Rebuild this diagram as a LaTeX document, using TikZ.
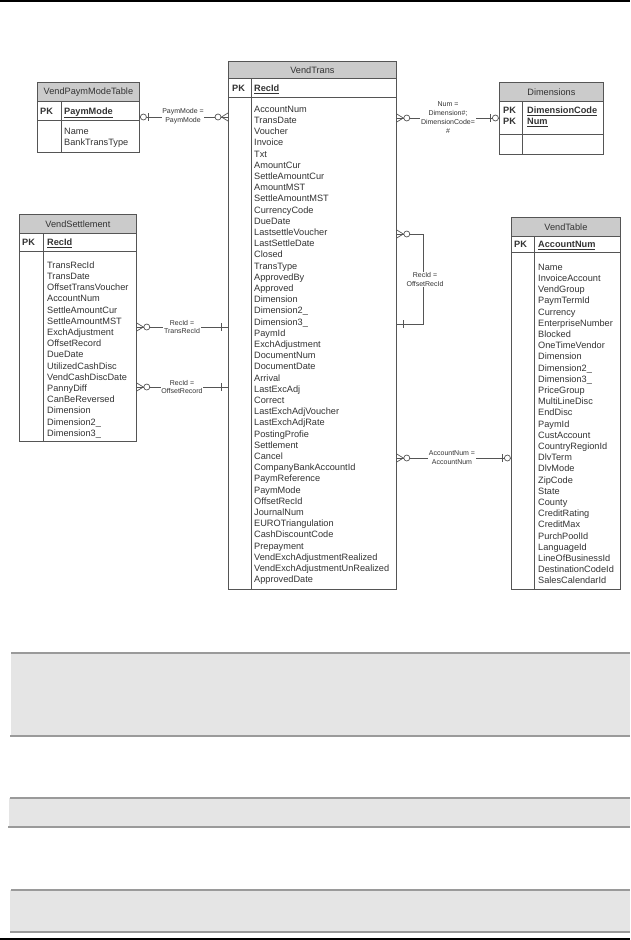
\documentclass[tikz,border=0pt]{standalone}
\usepackage{fontspec}
\setmainfont{Liberation Sans}
\usetikzlibrary{calc}
\definecolor{txt}{HTML}{333333}
\definecolor{bord}{HTML}{555555}
\definecolor{hdrfill}{HTML}{CBCBCB}
\definecolor{bandfill}{HTML}{E5E5E5}
\definecolor{bandline}{HTML}{9A9A9A}
\begin{document}
\begin{tikzpicture}[x=1pt,y=-1pt,
  tbl/.style={draw=bord, line width=0.8pt, inner sep=0pt, anchor=north west},
  hdr/.style={draw=bord, fill=hdrfill, line width=0.8pt, inner sep=0pt, anchor=north west},
  htxt/.style={text=txt, font=\fontsize{9.2}{11.2}\selectfont, inner sep=0pt},
  fld/.style={text=txt, font=\fontsize{9.2}{11.2}\selectfont, inner sep=0pt, anchor=base west},
  pk/.style={text=txt, font=\fontsize{9.2}{11.2}\selectfont\bfseries, inner sep=0pt, anchor=base west},
  bline/.style={draw=bord, line width=0.8pt},
  conn/.style={draw=bord, line width=0.7pt},
  lbl/.style={text=txt, font=\fontsize{7}{8.8}\selectfont, align=center, fill=white, inner sep=0.6pt},
  band/.style={fill=bandfill, draw=none},
  bandedge/.style={draw=bandline, line width=1.2pt},
  pics/manyopt/.style={code={
    \draw[conn] (0,-4) -- (6.5,0) -- (0,4);
    \draw[conn, fill=white] (10,0) circle[radius=3pt];
  }},
  pics/oneopt/.style={code={
    \draw[conn] (9,-4) -- (9,4);
    \draw[conn, fill=white] (3.6,0) circle[radius=3pt];
  }},
  pics/onebar/.style={code={
    \draw[conn] (6.5,-4) -- (6.5,4);
  }}
]
\useasboundingbox (0,0) rectangle (630,940);
\fill[white] (0,0) rectangle (630,940);

% page rules
\draw[line width=2pt, black] (0,1) -- (630,1);
\draw[line width=2pt, black] (0,939) -- (630,939);

% gray bands
\fill[band] (11,653) rectangle (630,736);
\draw[bandedge] (11,653) -- (630,653);
\draw[bandedge] (10,736) -- (630,736);
\fill[band] (9,798) rectangle (630,827);
\draw[bandedge] (10,798) -- (630,798);
\draw[bandedge] (8,827) -- (630,827);
\fill[band] (10,890) rectangle (630,932);
\draw[bandedge] (11,890) -- (630,890);
\draw[bandedge] (10,932) -- (630,932);

% ---------- VendPaymModeTable ----------
\node[tbl, minimum width=102pt, minimum height=70pt] (pm) at (37,82) {};
\node[hdr, minimum width=102pt, minimum height=19pt] (pmH) at (37,82) {};
\node[htxt] (pmT) at (pmH.center) {VendPaymModeTable};
\draw[bline] (37,120) -- (139,120);
\draw[bline] (61,101) -- (61,152);
\node[pk] (pmPK) at (40,114) {PK};
\node[pk] (pmK) at (64,114) {\underline{PaymMode}};
\node[fld] (pmF1) at (64,134.3) {Name};
\node[fld] (pmF2) at (64,145.5) {BankTransType};

% ---------- VendTrans ----------
\node[tbl, minimum width=168pt, minimum height=528pt] (vt) at (228,61) {};
\node[hdr, minimum width=168pt, minimum height=17pt] (vtH) at (228,61) {};
\node[htxt] (vtT) at (vtH.center) {VendTrans};
\draw[bline] (228,97) -- (396,97);
\draw[bline] (251,78) -- (251,589);
\node[pk] (vtPK) at (232,91.3) {PK};
\node[pk] (vtK) at (254,91.3) {\underline{RecId}};
\foreach \f [count=\i from 0] in {AccountNum,TransDate,Voucher,Invoice,Txt,AmountCur,SettleAmountCur,AmountMST,SettleAmountMST,CurrencyCode,DueDate,LastsettleVoucher,LastSettleDate,Closed,TransType,ApprovedBy,Approved,Dimension,Dimension2\_,Dimension3\_,PaymId,ExchAdjustment,DocumentNum,DocumentDate,Arrival,LastExcAdj,Correct,LastExchAdjVoucher,LastExchAdjRate,PostingProfie,Settlement,Cancel,CompanyBankAccountId,PaymReference,PaymMode,OffsetRecId,JournalNum,EUROTriangulation,CashDiscountCode,Prepayment,VendExchAdjustmentRealized,VendExchAdjustmentUnRealized,ApprovedDate}
  \node[fld] (vtF\i) at (254,112.3+11.2*\i) {\f};

% ---------- Dimensions ----------
\node[tbl, minimum width=104pt, minimum height=72pt] (dm) at (499,82) {};
\node[hdr, minimum width=104pt, minimum height=19pt] (dmH) at (499,82) {};
\node[htxt] (dmT) at (dmH.center) {Dimensions};
\draw[bline] (499,134) -- (603,134);
\draw[bline] (522,101) -- (522,154);
\node[pk] (dmPK1) at (503,113.3) {PK};
\node[pk] (dmPK2) at (503,124.5) {PK};
\node[pk] (dmK1) at (527,113.3) {\underline{DimensionCode}};
\node[pk] (dmK2) at (527,124.5) {\underline{Num}};

% ---------- VendSettlement ----------
\node[tbl, minimum width=117pt, minimum height=227pt] (vs) at (19,214) {};
\node[hdr, minimum width=117pt, minimum height=19pt] (vsH) at (19,214) {};
\node[htxt] (vsT) at (vsH.center) {VendSettlement};
\draw[bline] (19,251) -- (136,251);
\draw[bline] (43,233) -- (43,441);
\node[pk] (vsPK) at (22,245.3) {PK};
\node[pk] (vsK) at (47,245.3) {\underline{RecId}};
\foreach \f [count=\i from 0] in {TransRecId,TransDate,OffsetTransVoucher,AccountNum,SettleAmountCur,SettleAmountMST,ExchAdjustment,OffsetRecord,DueDate,UtilizedCashDisc,VendCashDiscDate,PannyDiff,CanBeReversed,Dimension,Dimension2\_,Dimension3\_}
  \node[fld] (vsF\i) at (47,268.3+11.2*\i) {\f};

% ---------- VendTable ----------
\node[tbl, minimum width=109pt, minimum height=372pt] (vtb) at (511,217) {};
\node[hdr, minimum width=109pt, minimum height=19pt] (vtbH) at (511,217) {};
\node[htxt] (vtbT) at (vtbH.center) {VendTable};
\draw[bline] (511,252) -- (620,252);
\draw[bline] (534,236) -- (534,589);
\node[pk] (vtbPK) at (514,247.3) {PK};
\node[pk] (vtbK) at (538,247.3) {\underline{AccountNum}};
\foreach \f [count=\i from 0] in {Name,InvoiceAccount,VendGroup,PaymTermId,Currency,EnterpriseNumber,Blocked,OneTimeVendor,Dimension,Dimension2\_,Dimension3\_,PriceGroup,MultiLineDisc,EndDisc,PaymId,CustAccount,CountryRegionId,DlvTerm,DlvMode,ZipCode,State,County,CreditRating,CreditMax,PurchPoolId,LanguageId,LineOfBusinessId,DestinationCodeId,SalesCalendarId}
  \node[fld] (vtbF\i) at (538,270.3+11.2*\i) {\f};

% ---------- Connectors ----------
% PaymMode
\draw[conn] (pm.east |- 0,117) -- (vt.west |- 0,117);
\pic at (pm.east |- 0,117) {oneopt};
\pic[xscale=-1] at (vt.west |- 0,117) {manyopt};
\node[lbl] (l1) at (183,116.5) {PaymMode =\\PaymMode};

% Dimensions
\draw[conn] (vt.east |- 0,118) -- (dm.west |- 0,118);
\pic at (vt.east |- 0,118) {manyopt};
\pic[xscale=-1] at (dm.west |- 0,118) {oneopt};
\node[lbl] (l2) at (448,117.5) {Num =\\Dimension\#;\\DimensionCode=\\\#};

% VendSettlement TransRecId
\draw[conn] (vs.east |- 0,327) -- (vt.west |- 0,327);
\pic at (vs.east |- 0,327) {manyopt};
\pic[xscale=-1] at (vt.west |- 0,327) {onebar};
\node[lbl] (l3) at (182,327) {RecId =\\TransRecId};

% VendSettlement OffsetRecord
\draw[conn] (vs.east |- 0,387) -- (vt.west |- 0,387);
\pic at (vs.east |- 0,387) {manyopt};
\pic[xscale=-1] at (vt.west |- 0,387) {onebar};
\node[lbl] (l4) at (182,387) {RecId =\\OffsetRecord};

% self relation
\coordinate (sr1) at (423,234);
\coordinate (sr2) at (423,324);
\draw[conn] (vt.east |- sr1) -- (sr1) -- (sr2) -- (vt.east |- sr2);
\pic at (vt.east |- sr1) {manyopt};
\pic at (vt.east |- sr2) {onebar};
\node[lbl] (l5) at (425,279.5) {RecId =\\OffsetRecId};

% VendTable
\draw[conn] (vt.east |- 0,458) -- (vtb.west |- 0,458);
\pic at (vt.east |- 0,458) {manyopt};
\pic[xscale=-1] at (vtb.west |- 0,458) {oneopt};
\node[lbl] (l6) at (452,457.5) {AccountNum =\\AccountNum};
\end{tikzpicture}
\end{document}
